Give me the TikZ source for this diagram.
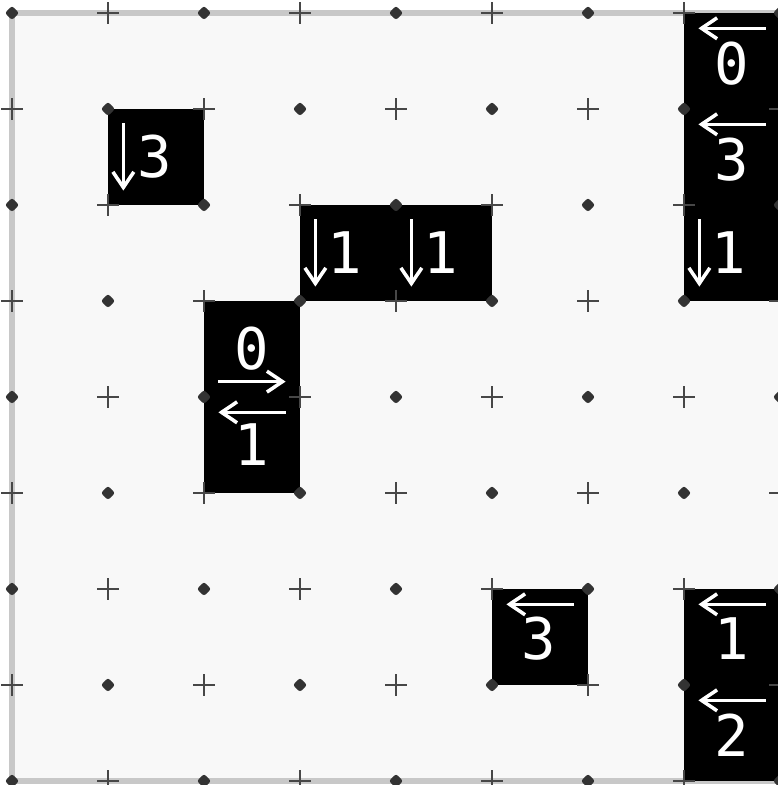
\documentclass[tikz,border=0pt]{standalone}
\usepackage{fontspec}
\setmonofont{DejaVu Sans Mono}
\usetikzlibrary{arrows.meta, calc}
\definecolor{boardgrey}{HTML}{F8F8F8}
\definecolor{rimgrey}{HTML}{C8C8C8}
\definecolor{markgrey}{HTML}{333333}

\begin{document}
\begin{tikzpicture}[
    shaded/.style={fill=black},
    clue/.style={text=white, inner sep=0pt, font=\ttfamily\fontsize{17}{17}\selectfont},
    arr/.style={-{Straight Barb[length=4.6pt, width=6.2pt]}, draw=white, line width=1.05pt},
    plusmark/.style={draw=markgrey!90!white, line width=0.85pt},
    dotmark/.style={fill=markgrey, rounded corners=0.8pt},
]

% ---- Canvas and board ----
\useasboundingbox (-0.125, 0.135) rectangle (7.979, -8.042);
\fill[white] (-0.125, 0.135) rectangle (7.979, -8.042);
\fill[boardgrey] (0, 0) rectangle (8, -8);
\draw[rimgrey, line width=1.8pt] (8, 0) -- (0, 0) -- (0, -8) -- (8, -8);

% ---- Shaded cells ----
\fill[shaded] (1, -1) rectangle (2, -2);
\fill[shaded] (3, -2) rectangle (5, -3);
\fill[shaded] (2, -3) rectangle (3, -5);
\fill[shaded] (7, 0) rectangle (8, -3);
\fill[shaded] (5, -6) rectangle (6, -7);
\fill[shaded] (7, -6) rectangle (8, -8);

% ---- Clues: down arrows ----
\node[clue] (c11) at (1.49, -1.5) {3};
\draw[arr] (1.16, -1.15) -- (1.16, -1.85);
\node[clue] (c32) at (3.47, -2.5) {1};
\draw[arr] (3.16, -2.15) -- (3.16, -2.85);
\node[clue] (c42) at (4.47, -2.5) {1};
\draw[arr] (4.16, -2.15) -- (4.16, -2.85);
\node[clue] (c72) at (7.47, -2.5) {1};
\draw[arr] (7.16, -2.15) -- (7.16, -2.85);

% ---- Clues: left arrows ----
\node[clue] (c70) at (7.5, -0.53) {0};
\draw[arr] (7.85, -0.16) -- (7.15, -0.16);
\node[clue] (c71) at (7.5, -1.53) {3};
\draw[arr] (7.85, -1.16) -- (7.15, -1.16);
\node[clue] (c24) at (2.5, -4.5) {1};
\draw[arr] (2.85, -4.16) -- (2.15, -4.16);
\node[clue] (c56) at (5.49, -6.52) {3};
\draw[arr] (5.85, -6.16) -- (5.15, -6.16);
\node[clue] (c76) at (7.5, -6.52) {1};
\draw[arr] (7.85, -6.16) -- (7.15, -6.16);
\node[clue] (c77) at (7.5, -7.52) {2};
\draw[arr] (7.85, -7.16) -- (7.15, -7.16);

% ---- Clue: right arrow (below) ----
\node[clue] (c23) at (2.5, -3.5) {0};
\draw[arr] (2.15, -3.84) -- (2.85, -3.84);

% ---- Vertex marks ----
\foreach \i in {0,...,8}{
  \foreach \j in {0,...,8}{
    \pgfmathtruncatemacro{\odd}{mod(\i+\j,2)}
    \ifnum\odd=1
      \draw[plusmark] (\i-0.11, -\j) -- (\i+0.11, -\j) (\i, -\j-0.11) -- (\i, -\j+0.11);
    \else
      \fill[dotmark] (\i, -\j+0.075) -- (\i+0.075, -\j) -- (\i, -\j-0.075) -- (\i-0.075, -\j) -- cycle;
    \fi
  }
}

\end{tikzpicture}
\end{document}
